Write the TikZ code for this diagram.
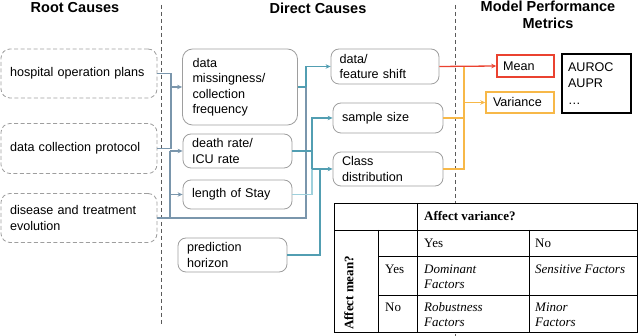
\documentclass[tikz,border=0pt]{standalone}
\usepackage{fontspec}
\setmainfont{Liberation Sans}
\newfontfamily\seriffont{Liberation Serif}
\usetikzlibrary{arrows.meta}
\definecolor{slate}{RGB}{122,150,172}
\definecolor{tealc}{RGB}{82,158,178}
\definecolor{lteal}{RGB}{158,208,220}
\definecolor{redc}{RGB}{234,66,48}
\definecolor{orangec}{RGB}{247,184,72}
\definecolor{boxgray}{RGB}{158,158,158}
\definecolor{sepgray}{RGB}{90,90,90}
\begin{document}
\begin{tikzpicture}[x=1pt,y=-1pt,
  txt/.style={font=\fontsize{12.6}{15.5}\selectfont},
  ttl/.style={font=\fontsize{14.5}{17}\selectfont\bfseries, align=center, inner sep=0pt},
  rootbox/.style={txt, draw=boxgray, line width=0.8pt, dash pattern=on 4pt off 2.5pt, rounded corners=9pt, align=left, inner xsep=9pt, inner ysep=0pt},
  dbox/.style={txt, draw=boxgray, line width=0.8pt, rounded corners=8pt, align=left, inner xsep=9pt, inner ysep=0pt},
  mbox/.style={txt, line width=1.5pt, align=left, inner xsep=6pt, inner ysep=0pt},
  sep/.style={sepgray, line width=0.8pt, dash pattern=on 4pt off 3pt},
  link/.style={line width=1.3pt},
  tip/.style={-{Stealth[length=5pt,width=4.5pt]}},
  tcell/.style={font=\seriffont\fontsize{13}{15}\selectfont, anchor=west, inner sep=0pt},
  tital/.style={tcell, font=\seriffont\fontsize{13}{15}\selectfont\itshape},
  tbold/.style={tcell, font=\seriffont\fontsize{13}{15}\selectfont\bfseries},
  tline/.style={black, line width=0.9pt}
]
\useasboundingbox (0,0) rectangle (640,336);

% separators
\draw[sep] (161,5) -- (161,325);
\draw[sep] (455,5) -- (455,336);

% titles
\node[ttl] (t1) at (75,8) {Root Causes};
\node[ttl] (t2) at (318,8) {Direct Causes};
\node[ttl] (t3) at (548,15) {Model Performance\\Metrics};

% root causes
\node[rootbox, minimum width=156pt, minimum height=49pt, text width=138pt] (r1) at (79,73.5) {hospital operation plans};
\node[rootbox, minimum width=156pt, minimum height=50pt, text width=138pt] (r2) at (79,148.5) {data collection protocol};
\node[rootbox, minimum width=156pt, minimum height=49pt, text width=138pt] (r3) at (79,218) {disease and treatment\\evolution};

% direct causes
\node[dbox, rounded corners=10pt, minimum width=114pt, minimum height=76pt, text width=95pt, inner xsep=10pt] (d1) at (240,87) {data\\missingness/\\collection\\frequency};
\node[dbox, minimum width=109pt, minimum height=34pt, text width=91pt] (d2) at (237.5,151) {death rate/\\ICU rate};
\node[dbox, minimum width=109pt, minimum height=29pt, text width=91pt] (d3) at (237.5,194.5) {length of Stay};
\node[dbox, minimum width=109pt, minimum height=34pt, text width=91pt] (d4) at (232.5,255) {prediction\\horizon};
\node[dbox, minimum width=108pt, minimum height=35pt, text width=91pt, inner xsep=8pt] (m1) at (385,66.5) {data/\\feature shift};
\node[dbox, minimum width=110pt, minimum height=30pt, text width=92pt] (m2) at (388,118) {sample size};
\node[dbox, minimum width=110pt, minimum height=34pt, text width=92pt] (m3) at (388,169) {Class\\distribution};

% metrics
\node[mbox, draw=redc, minimum width=57pt, minimum height=22pt, text width=45pt] (mean) at (525.5,66) {Mean};
\node[mbox, draw=orangec, minimum width=68pt, minimum height=21pt, text width=54pt, inner xsep=7pt] (var) at (520,102.5) {Variance};
\node[mbox, draw=black, line width=1.8pt, minimum width=69pt, minimum height=59pt, text width=57pt, font=\fontsize{12.6}{16.5}\selectfont] (auc) at (596.5,83.5) {AUROC\\AUPR\\\dots};

% root -> direct connectors
\coordinate (b1) at (171,87);
\draw[link, slate] (r1.east) -| (b1);
\draw[link, slate] (r2.east) -| (b1);
\draw[link, slate, tip] (b1) -- (d1.west);
\coordinate (b2) at (170,151);
\coordinate (b2s) at (170,194.5);
\draw[link, slate] (r3.east) -| (b2);
\draw[link, slate, tip] (b2) -- (d2.west);
\draw[link, slate, tip] (b2s) -- (d3.west);
\coordinate (b3) at (306,87);
\coordinate (b3t) at (306,66.5);
\draw[link, slate] (r3.east) -| (b3);

% direct -> direct connectors
\draw[link, tealc] (d1.east) -- (b3);
\draw[link, tealc, tip] (b3) -- (b3t) -- (m1.west);
\coordinate (b4) at (312,169);
\coordinate (b4t) at (312,118);
\draw[link, lteal] (d3.east) -| (b4);
\draw[link, tealc] (d2.east) -| (b4);
\draw[link, tealc, tip] (b4) -- (b4t) -- (m2.west);
\coordinate (b5) at (320,169);
\draw[link, tealc] (d4.east) -| (b5);
\draw[link, tealc, tip] (b4) -- (m3.west);

% direct -> metrics
\coordinate (o1) at (464,66.5);
\coordinate (o2) at (464,102.5);
\draw[link, orangec] (m2.east) -| (o2);
\draw[link, orangec] (m3.east) -| (o2);
\draw[link, orangec] (o1) -- (o2);
\draw[link, orangec, tip] (o2) -- (var.west);
\draw[link, redc, tip] (m1.east) -- (mean.west);

% table
\draw[tline, fill=white] (334,203) rectangle (637,332);
\draw[tline] (334,230) -- (637,230);
\draw[tline] (378,256) -- (637,256);
\draw[tline] (378,295) -- (637,295);
\draw[tline] (378,230) -- (378,332);
\draw[tline] (417,203) -- (417,332);
\draw[tline] (529,230) -- (529,332);
\node[tbold] (c1) at (424,216) {Affect variance?};
\node[tcell] (c2) at (424,243) {Yes};
\node[tcell] (c3) at (535,243) {No};
\node[tbold, anchor=center, rotate=90] (c4) at (349,293) {Affect mean?};
\node[tcell] (c5) at (385,269) {Yes};
\node[tcell] (c6) at (385,307) {No};
\node[tital] (c7) at (424,269) {Dominant};
\node[tital] (c8) at (424,284) {Factors};
\node[tital] (c9) at (535,269) {Sensitive Factors};
\node[tital] (c10) at (424,307) {Robustness};
\node[tital] (c11) at (424,322) {Factors};
\node[tital] (c12) at (535,307) {Minor};
\node[tital] (c13) at (535,322) {Factors};
\end{tikzpicture}
\end{document}
